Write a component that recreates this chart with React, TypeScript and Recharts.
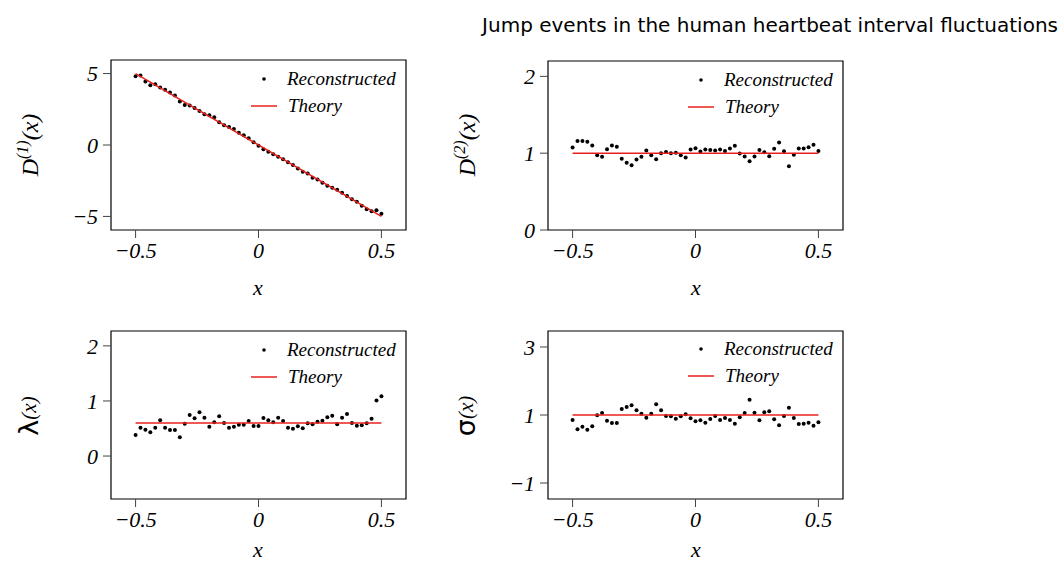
import React from "react";
import { ScatterChart, Scatter, XAxis, YAxis, ReferenceArea } from "recharts";

// grid of x values (bin centres)
const xGrid = [
  -0.5, -0.48, -0.46, -0.44, -0.42, -0.4, -0.38, -0.36, -0.34, -0.32,
  -0.3, -0.28, -0.26, -0.24, -0.22, -0.2, -0.18, -0.16, -0.14, -0.12,
  -0.1, -0.08, -0.06, -0.04, -0.02, 0, 0.02, 0.04, 0.06, 0.08,
  0.1, 0.12, 0.14, 0.16, 0.18, 0.2, 0.22, 0.24, 0.26, 0.28,
  0.3, 0.32, 0.34, 0.36, 0.38, 0.4, 0.42, 0.44, 0.46, 0.48, 0.5,
];

const drift = [
  4.81, 4.86, 4.44, 4.18, 4.25, 4.02, 3.86, 3.67, 3.46, 3.04,
  2.8, 2.76, 2.59, 2.38, 2.15, 2.08, 1.94, 1.59, 1.38, 1.26,
  1.12, 0.86, 0.68, 0.47, 0.19, -0.05, -0.3, -0.47, -0.65, -0.82,
  -1.0, -1.21, -1.4, -1.64, -1.87, -2.0, -2.29, -2.41, -2.64, -2.85,
  -2.99, -3.13, -3.34, -3.57, -3.79, -3.97, -4.25, -4.49, -4.63, -4.56, -4.81,
];

const diffusion = [
  1.074, 1.16, 1.16, 1.148, 1.1, 0.974, 0.952, 1.052, 1.1, 1.083,
  0.926, 0.874, 0.843, 0.917, 0.952, 1.035, 0.974, 0.922, 1.0, 1.017,
  1.0, 1.004, 0.974, 0.943, 1.048, 1.065, 1.022, 1.048, 1.043, 1.035,
  1.048, 1.03, 1.061, 1.096, 0.996, 0.957, 0.896, 0.957, 1.043, 1.013,
  0.961, 1.057, 1.139, 1.026, 0.83, 0.978, 1.061, 1.061, 1.078, 1.109, 1.03,
];

const jumpRate = [
  0.382, 0.515, 0.479, 0.43, 0.515, 0.648, 0.515, 0.473, 0.473, 0.339,
  0.588, 0.745, 0.685, 0.794, 0.697, 0.533, 0.612, 0.721, 0.6, 0.515,
  0.533, 0.57, 0.57, 0.636, 0.545, 0.545, 0.69, 0.648, 0.612, 0.697,
  0.636, 0.515, 0.497, 0.539, 0.503, 0.594, 0.576, 0.624, 0.642, 0.703,
  0.733, 0.576, 0.697, 0.764, 0.6, 0.552, 0.558, 0.594, 0.679, 1.006, 1.085,
];

const jumpAmp = [
  0.853, 0.579, 0.657, 0.569, 0.667, 0.99, 1.059, 0.833, 0.765, 0.765,
  1.176, 1.235, 1.284, 1.137, 1.039, 0.922, 1.039, 1.314, 1.137, 0.971,
  0.961, 0.892, 0.961, 1.02, 0.902, 0.814, 0.843, 0.775, 0.882, 0.971,
  0.853, 0.912, 0.853, 0.745, 0.931, 1.059, 1.451, 1.069, 0.843, 1.078,
  1.108, 0.873, 0.696, 0.971, 1.216, 0.912, 0.735, 0.745, 0.775, 0.686, 0.784,
];

// theory curves, given by their end points
const theoryX = [-0.5, 0.5];
const theoryDrift = [5, -5];
const theoryDiffusion = [1, 1];
const theoryRate = [0.6, 0.6];
const theoryAmp = [1, 1];

const xTicks = [-0.5, 0, 0.5];
const xDomain: [number, number] = [-0.6, 0.6];

const RED = "#e8201c";
const SERIF = "'Liberation Serif', 'DejaVu Serif', serif";
const ML = 110;
const MT = 10;

function fmt(v: number) {
  return v < 0 ? `\u2212${Math.abs(v)}` : `${v}`;
}

function XTick(props: any) {
  const { x, y, payload } = props;
  return (
    <text x={x} y={y} dy="0.72em" textAnchor="middle" fontFamily={SERIF} fontStyle="italic" fontSize={22} fill="#000">
      {fmt(payload.value)}
    </text>
  );
}

function YTick(props: any) {
  const { x, y, payload } = props;
  return (
    <text x={x} y={y} dy="0.36em" textAnchor="end" fontFamily={SERIF} fontStyle="italic" fontSize={22} fill="#000">
      {fmt(payload.value)}
    </text>
  );
}

const dot = (p: any) => <circle cx={p.cx} cy={p.cy} r={2} fill="#000" />;
const noDot = () => <g />;

type PanelProps = {
  values: number[];
  theory: number[];
  left: number;
  top: number;
  w: number;
  h: number;
  yDomain: [number, number];
  yTicks: number[];
};

function Panel({ values, theory, left, top, w, h, yDomain, yTicks }: PanelProps) {
  const points = xGrid.map((x, i) => ({ x, y: values[i] }));
  const line = theoryX.map((x, i) => ({ x, y: theory[i] }));
  return (
    <div style={{ position: "absolute", left: left - ML, top: top - MT }}>
      <ScatterChart width={w + ML + 10} height={h + MT + 70} margin={{ top: MT, right: 10, left: 0, bottom: 0 }}>
        <XAxis
          type="number"
          dataKey="x"
          domain={xDomain}
          ticks={xTicks}
          allowDataOverflow
          axisLine={false}
          tickSize={8}
          tickMargin={4}
          tickLine={{ stroke: "#444" }}
          tick={<XTick />}
          height={70}
        />
        <YAxis
          type="number"
          dataKey="y"
          domain={yDomain}
          ticks={yTicks}
          allowDataOverflow
          axisLine={false}
          tickSize={8}
          tickMargin={5}
          tickLine={{ stroke: "#444" }}
          tick={<YTick />}
          width={ML}
        />
        <ReferenceArea
          x1={xDomain[0]}
          x2={xDomain[1]}
          y1={yDomain[0]}
          y2={yDomain[1]}
          fill="none"
          stroke="#000"
          strokeWidth={1.2}
          ifOverflow="visible"
        />
        <Scatter data={points} shape={dot} isAnimationActive={false} />
        <Scatter data={line} shape={noDot} line={{ stroke: RED, strokeWidth: 1.5 }} isAnimationActive={false} />
      </ScatterChart>
    </div>
  );
}

function LegendBox({ right, top }: { right: number; top: number }) {
  return (
    <g>
      <circle cx={right - 142} cy={top + 19} r={1.8} fill="#000" />
      <text x={right - 119} y={top + 19} dy="0.33em" fontFamily={SERIF} fontStyle="italic" fontSize={19}>
        Reconstructed
      </text>
      <line x1={right - 155} x2={right - 129} y1={top + 46} y2={top + 46} stroke={RED} strokeWidth={1.5} />
      <text x={right - 118} y={top + 46} dy="0.33em" fontFamily={SERIF} fontStyle="italic" fontSize={19}>
        Theory
      </text>
    </g>
  );
}

function DLabel({ x, y, n }: { x: number; y: number; n: string }) {
  return (
    <text
      transform={`translate(${x},${y}) rotate(-90)`}
      textAnchor="middle"
      fontFamily={SERIF}
      fontStyle="italic"
      fontSize={24}
    >
      D
      <tspan fontSize={16} dy={-10}>({n})</tspan>
      <tspan dy={10}>(x)</tspan>
    </text>
  );
}

function GreekLabel({ x, y, g }: { x: number; y: number; g: string }) {
  return (
    <text transform={`translate(${x},${y}) rotate(-90)`} textAnchor="middle" fontSize={22}>
      <tspan fontFamily="'DejaVu Sans', sans-serif" fontSize={27}>{g}</tspan>
      <tspan fontFamily={SERIF} fontStyle="italic" fontSize={21} dy={-2}>(x)</tspan>
    </text>
  );
}

export default function App() {
  return (
    <div style={{ position: "absolute", left: 0, top: 0, width: 1063, height: 563, background: "#fff" }}>
      <Panel values={drift} theory={theoryDrift} left={111} top={60} w={295} h={170} yDomain={[-5.95, 5.95]} yTicks={[-5, 0, 5]} />
      <Panel values={diffusion} theory={theoryDiffusion} left={548} top={61} w={295} h={169} yDomain={[0, 2.2]} yTicks={[0, 1, 2]} />
      <Panel values={jumpRate} theory={theoryRate} left={111} top={331} w={295} h={168} yDomain={[-0.78, 2.27]} yTicks={[0, 1, 2]} />
      <Panel values={jumpAmp} theory={theoryAmp} left={548} top={331} w={295} h={168} yDomain={[-1.47, 3.47]} yTicks={[-1, 1, 3]} />
      <svg width={1063} height={563} style={{ position: "absolute", left: 0, top: 0, pointerEvents: "none" }}>
        <text x={1058} y={32} textAnchor="end" fontFamily="'DejaVu Sans', sans-serif" fontSize={20} fill="#000">
          Jump events in the human heartbeat interval fluctuations
        </text>
        <LegendBox right={406} top={60} />
        <LegendBox right={843} top={61} />
        <LegendBox right={406} top={331} />
        <LegendBox right={843} top={330} />
        <DLabel x={38} y={145} n="1" />
        <DLabel x={475} y={145} n="2" />
        <GreekLabel x={38} y={416} g={"\u03bb"} />
        <GreekLabel x={475} y={416} g={"\u03c3"} />
        <text x={258} y={295} textAnchor="middle" fontFamily={SERIF} fontStyle="italic" fontSize={22}>x</text>
        <text x={696} y={295} textAnchor="middle" fontFamily={SERIF} fontStyle="italic" fontSize={22}>x</text>
        <text x={258} y={557} textAnchor="middle" fontFamily={SERIF} fontStyle="italic" fontSize={22}>x</text>
        <text x={696} y={557} textAnchor="middle" fontFamily={SERIF} fontStyle="italic" fontSize={22}>x</text>
      </svg>
    </div>
  );
}
